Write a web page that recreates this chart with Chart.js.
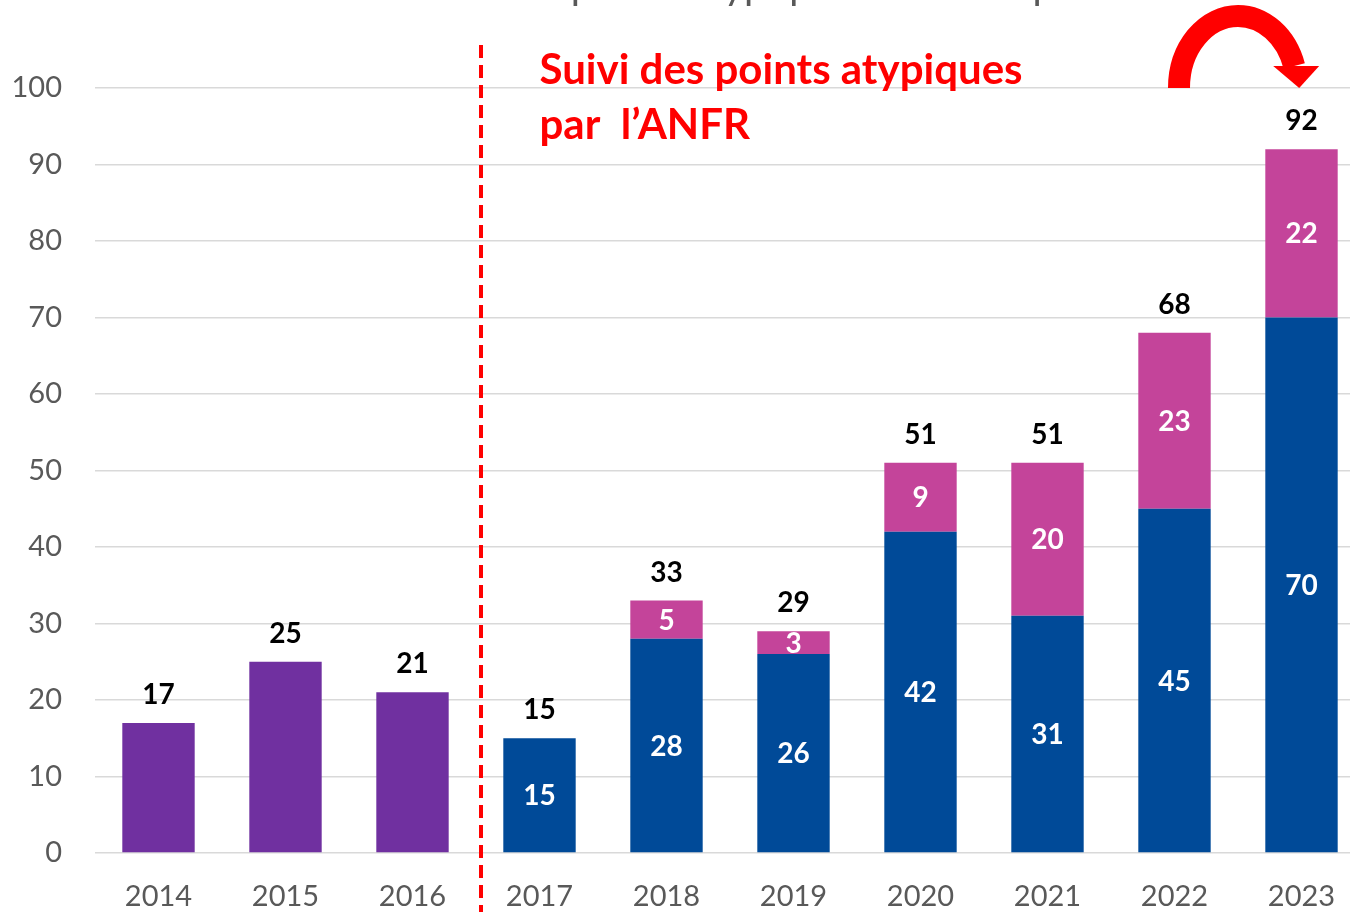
<!DOCTYPE html>
<html>
<head>
<meta charset="utf-8">
<script src="https://cdn.jsdelivr.net/npm/chart.js@4.4.1/dist/chart.umd.min.js"></script>
<style>
  html, body { margin: 0; padding: 0; background: #fff; overflow: hidden; }
  #wrap { width: 1365px; height: 912px; position: relative; }
</style>
</head>
<body>
<div id="wrap"><canvas id="chart"></canvas></div>
<script>
// data
const years = ["2014", "2015", "2016", "2017", "2018", "2019", "2020", "2021", "2022", "2023"];
const avantAnfr = [17, 25, 21, null, null, null, null, null, null, null];
const suiviBleu = [null, null, null, 15, 28, 26, 42, 31, 45, 70];
const suiviRose = [null, null, null, null, 5, 3, 9, 20, 23, 22];
const yTicks = [0, 10, 20, 30, 40, 50, 60, 70, 80, 90, 100];

const titleText = "Nombre total de points atypiques recensés par année";
const noteLines = ["Suivi des points atypiques", "par  l\u2019ANFR"];

const FONT = "Lato, 'Open Sans', sans-serif";

const totals = years.map((y, i) =>
  (avantAnfr[i] || 0) + (suiviBleu[i] || 0) + (suiviRose[i] || 0)
);

// labels inside the bars and totals above them
const labelsPlugin = {
  id: "labels",
  afterDatasetsDraw(chart) {
    const ctx = chart.ctx;
    const yScale = chart.scales.y;
    ctx.save();
    ctx.textAlign = "center";
    ctx.textBaseline = "middle";
    ctx.font = "bold 28px " + FONT;
    // inner labels (blue & pink)
    [1, 2].forEach((di) => {
      const meta = chart.getDatasetMeta(di);
      meta.data.forEach((bar, i) => {
        const v = chart.data.datasets[di].data[i];
        if (v == null) return;
        ctx.fillStyle = "#ffffff";
        ctx.fillText(String(v), bar.x, (bar.y + bar.base) / 2 + 1);
      });
    });
    // totals
    ctx.fillStyle = "#000000";
    totals.forEach((t, i) => {
      const x = chart.scales.x.getPixelForValue(i);
      ctx.fillText(String(t), x, yScale.getPixelForValue(t) - 28);
    });
    ctx.restore();
  }
};

// dashed separator, red note, curved arrow, cut title
const decorPlugin = {
  id: "decor",
  afterDraw(chart) {
    const ctx = chart.ctx;
    const xs = chart.scales.x;
    const ys = chart.scales.y;
    ctx.save();

    // partially visible title at the very top
    ctx.fillStyle = "#595959";
    ctx.font = "40px " + FONT;
    ctx.textAlign = "center";
    ctx.textBaseline = "alphabetic";
    ctx.fillText(titleText, 740, -1);

    // red dashed separator between 2016 and 2017
    const sepX = (xs.getPixelForValue(2) + xs.getPixelForValue(3)) / 2 + 5;
    ctx.strokeStyle = "#ff0000";
    ctx.lineWidth = 4;
    ctx.setLineDash([13, 7]);
    ctx.beginPath();
    ctx.moveTo(sepX, 45);
    ctx.lineTo(sepX, chart.height);
    ctx.stroke();
    ctx.setLineDash([]);

    // note text
    ctx.fillStyle = "#ff0000";
    ctx.font = "bold 42px " + FONT;
    ctx.textAlign = "left";
    const noteX = xs.getPixelForValue(3);
    ctx.fillText(noteLines[0], noteX, 84);
    ctx.fillText(noteLines[1], noteX, 139);

    // curved arrow over 2023
    const cx = (xs.getPixelForValue(8) + xs.getPixelForValue(9)) / 2;
    const cy = ys.getPixelForValue(100);
    const rx = 59, ry = 72;
    const endT = 0.31;
    ctx.strokeStyle = "#ff0000";
    ctx.lineWidth = 22;
    ctx.beginPath();
    ctx.ellipse(cx, cy, rx, ry, 0, Math.PI, 2 * Math.PI - endT);
    ctx.stroke();
    const ex = cx + rx * Math.cos(endT);
    const ey = cy - ry * Math.sin(endT);
    ctx.fillStyle = "#ff0000";
    ctx.beginPath();
    ctx.moveTo(ex - 21, ey);
    ctx.lineTo(ex + 25, ey);
    ctx.lineTo(ex + 5, cy);
    ctx.closePath();
    ctx.fill();

    ctx.restore();
  }
};

new Chart(document.getElementById("chart"), {
  type: "bar",
  data: {
    labels: years,
    datasets: [
      { label: "Avant", data: avantAnfr, backgroundColor: "#7030A0" },
      { label: "Bleu", data: suiviBleu, backgroundColor: "#004A98" },
      { label: "Rose", data: suiviRose, backgroundColor: "#C4449A" }
    ]
  },
  options: {
    responsive: true,
    maintainAspectRatio: false,
    animation: false,
    layout: { padding: { top: 88, right: 0, left: 0, bottom: 0 } },
    datasets: { bar: { barPercentage: 0.57, categoryPercentage: 1 } },
    plugins: {
      legend: { display: false },
      tooltip: { enabled: false }
    },
    scales: {
      x: {
        stacked: true,
        grid: { display: false, drawTicks: false },
        border: { display: false },
        ticks: { color: "#595959", font: { family: FONT, size: 29 }, padding: 26, maxRotation: 0 },
        afterFit(scale) { scale.height = 59; }
      },
      y: {
        stacked: true,
        min: 0,
        max: 100,
        afterBuildTicks(scale) { scale.ticks = yTicks.map((v) => ({ value: v })); },
        grid: { color: "#D9D9D9", lineWidth: 1.5, drawTicks: false },
        border: { display: false },
        ticks: { color: "#595959", font: { family: FONT, size: 29 }, padding: 33 },
        afterFit(scale) { scale.width = 95; }
      }
    }
  },
  plugins: [labelsPlugin, decorPlugin]
});
</script>
</body>
</html>
